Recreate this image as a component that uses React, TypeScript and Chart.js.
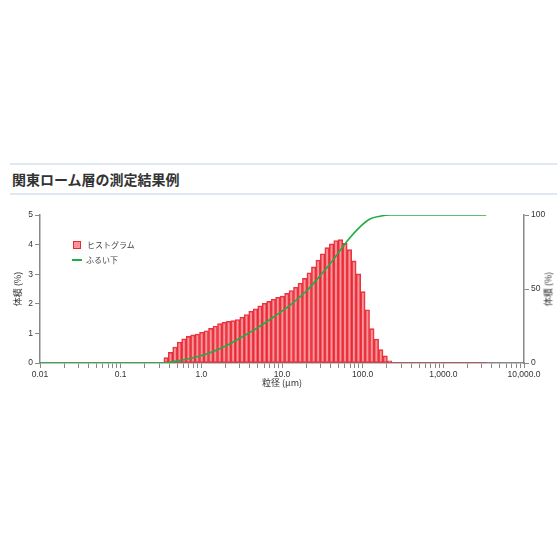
import { useEffect, useRef } from 'react';
import { Chart, registerables } from 'chart.js';

Chart.register(...registerables);

// histogram bins: particle size (μm) and volume (%)
const histSizes = [
  0.365, 0.414, 0.471, 0.535, 0.608, 0.691, 0.785, 0.892, 1.01, 1.15,
  1.31, 1.49, 1.69, 1.92, 2.18, 2.48, 2.81, 3.2, 3.63, 4.13,
  4.69, 5.33, 6.06, 6.88, 7.82, 8.88, 10.1, 11.5, 13.0, 14.8,
  16.8, 19.1, 21.7, 24.7, 28.0, 31.9, 36.2, 41.1, 46.7, 53.1,
  60.3, 68.5, 77.9, 88.5, 101, 114, 130, 148, 168, 190, 216,
];
const histValues = [
  0.18, 0.36, 0.54, 0.71, 0.82, 0.9, 0.95, 0.98, 1.04, 1.09,
  1.17, 1.25, 1.33, 1.37, 1.41, 1.43, 1.47, 1.55, 1.64, 1.75,
  1.83, 1.93, 2.02, 2.08, 2.16, 2.22, 2.26, 2.35, 2.45, 2.56,
  2.7, 2.86, 3.05, 3.25, 3.48, 3.69, 3.9, 4.03, 4.14, 4.17,
  4.04, 3.83, 3.45, 3.01, 2.41, 1.8, 1.16, 0.81, 0.45, 0.24, 0.07,
];

// empty bins on the right (drawn as a flat line)
const baselineSizes = [230, 3400];
const baselineValues = [0, 0];

// cumulative undersize (%)
const sieveSizes = [0.01, 0.37, 0.41, 0.72, 1.16, 1.86, 3.0, 4.84, 7.78, 12.5, 20.2, 29.5, 43.2, 63.3, 92.7, 123, 164, 218, 3400];
const sieveValues = [0, 0, 0.5, 3.0, 6.1, 10.6, 16.7, 23.4, 30.9, 39.0, 48.8, 58.8, 69.8, 82, 92, 97.3, 99.2, 100, 100];

const xMajorTicks = [0.01, 0.1, 1, 10, 100, 1000, 10000];
const xTickLabels = ['0.01', '0.1', '1.0', '10.0', '100.0', '1,000.0', '10,000.0'];
const xMinorSteps = [1, 2, 3, 4, 5, 6, 7, 8, 9];

const jpFont = "'Noto Sans CJK JP', sans-serif";
const numFont = "'Liberation Sans', Arial, sans-serif";
const axisGrey = '#888';
const barFill = 'rgba(245, 70, 80, 0.58)';
const barEdge = 'rgba(230, 28, 42, 0.9)';

const tickFont = { family: numFont, size: 8.5 };

const App = () => {
  const canvasRef = useRef<HTMLCanvasElement | null>(null);

  useEffect(() => {
    if (!canvasRef.current) return;
    const chart = new Chart(canvasRef.current, {
      type: 'bar',
      data: {
        datasets: [
          {
            type: 'line',
            label: 'ふるい下',
            data: sieveSizes.map((x, i) => ({ x, y: sieveValues[i] })),
            yAxisID: 'y2',
            borderColor: '#1fae45',
            borderWidth: 1.6,
            pointRadius: 0,
            cubicInterpolationMode: 'monotone',
            fill: false,
          },
          {
            type: 'bar',
            label: 'ヒストグラム',
            data: histSizes.map((x, i) => ({ x, y: histValues[i] })),
            yAxisID: 'y',
            backgroundColor: barFill,
            borderColor: barEdge,
            borderWidth: 1,
            borderSkipped: false,
            barThickness: 'flex',
            categoryPercentage: 1,
            barPercentage: 1,
          },
          {
            type: 'line',
            label: '',
            data: baselineSizes.map((x, i) => ({ x, y: baselineValues[i] })),
            yAxisID: 'y',
            borderColor: 'rgba(232, 36, 47, 0.55)',
            borderWidth: 1.5,
            pointRadius: 0,
          },
        ],
      } as any,
      options: {
        responsive: false,
        animation: false,
        layout: { padding: { top: 15, left: 0, right: 0, bottom: 0 } },
        plugins: {
          legend: { display: false },
          tooltip: { enabled: false },
        },
        scales: {
          x: {
            type: 'logarithmic',
            min: 0.01,
            max: 10000,
            offset: false,
            afterFit: (scale: any) => {
              scale.height = 37;
            },
            afterBuildTicks: (scale: any) => {
              const ticks: any[] = [];
              xMajorTicks.forEach((d, i) => {
                if (i === xMajorTicks.length - 1) {
                  ticks.push({ value: d });
                  return;
                }
                xMinorSteps.forEach((m) => ticks.push({ value: +(d * m).toPrecision(3) }));
              });
              scale.ticks = ticks;
            },
            border: { display: true, color: axisGrey, width: 1.5 },
            grid: {
              display: true,
              drawOnChartArea: false,
              drawTicks: true,
              tickLength: 5,
              tickColor: axisGrey,
              tickWidth: 1,
              offset: false,
            },
            ticks: {
              autoSkip: false,
              maxRotation: 0,
              minRotation: 0,
              padding: 2,
              color: '#333',
              font: tickFont,
              callback: (value: any) => {
                const i = xMajorTicks.findIndex((v) => Math.abs(v - value) < v * 1e-6);
                return i >= 0 ? xTickLabels[i] : '';
              },
            },
            title: {
              display: true,
              text: '粒径 (μm)',
              color: '#333',
              font: { family: jpFont, size: 9 },
              padding: { top: 0, bottom: 11.6 },
            },
          },
          y: {
            type: 'linear',
            position: 'left',
            min: 0,
            max: 5,
            afterFit: (scale: any) => {
              scale.width = 40;
            },
            border: { display: true, color: axisGrey, width: 1.5 },
            grid: {
              display: true,
              drawOnChartArea: false,
              drawTicks: true,
              tickLength: 5,
              tickColor: axisGrey,
              tickWidth: 1,
            },
            ticks: { stepSize: 1, padding: 2, color: '#333', font: tickFont },
            title: {
              display: true,
              text: '体積 (%)',
              color: '#333',
              font: { family: jpFont, size: 9 },
              padding: { top: 12.6, bottom: 0 },
            },
          },
          y2: {
            type: 'linear',
            position: 'right',
            min: 0,
            max: 100,
            afterFit: (scale: any) => {
              scale.width = 36;
            },
            border: { display: true, color: axisGrey, width: 1.5 },
            grid: {
              display: true,
              drawOnChartArea: false,
              drawTicks: true,
              tickLength: 5,
              tickColor: axisGrey,
              tickWidth: 1,
            },
            ticks: { stepSize: 50, padding: 2, color: '#333', font: tickFont },
          },
        },
      } as any,
    });
    return () => {
      chart.destroy();
    };
  }, []);

  return (
    <div style={{ position: 'absolute', left: 0, top: 0, width: 560, height: 560, background: 'white' }}>
      <div
        style={{
          position: 'absolute',
          left: 10,
          top: 163,
          width: 545,
          height: 28,
          borderTop: '2px solid #dfe7f3',
          borderBottom: '2px solid #dfe7f3',
          fontFamily: jpFont,
          fontWeight: 'bold',
          fontSize: 14,
          lineHeight: '28px',
          color: '#333',
          paddingLeft: 2,
          boxSizing: 'content-box',
        }}
      >
        関東ローム層の測定結果例
      </div>
      <canvas ref={canvasRef} width={560} height={200} style={{ position: 'absolute', left: 0, top: 200 }}></canvas>
      <div style={{ position: 'absolute', left: 72, top: 237, fontFamily: jpFont, fontSize: 8, color: '#444' }}>
        <div style={{ display: 'flex', alignItems: 'center', height: 15 }}>
          <span
            style={{
              display: 'inline-block',
              width: 6,
              height: 6,
              background: barFill,
              border: '1px solid ' + barEdge,
              marginLeft: 1,
              marginRight: 6,
            }}
          ></span>
          ヒストグラム
        </div>
        <div style={{ display: 'flex', alignItems: 'center', height: 15 }}>
          <span
            style={{ display: 'inline-block', width: 10, height: 2, background: '#1fae45', marginRight: 4 }}
          ></span>
          ふるい下
        </div>
      </div>
      <div
        style={{
          position: 'absolute',
          left: 548,
          top: 289,
          transform: 'translate(-50%, -50%) rotate(-90deg)',
          fontFamily: jpFont,
          fontSize: 9,
          color: '#333',
          whiteSpace: 'nowrap',
        }}
      >
        体積 (%)
      </div>
    </div>
  );
};

export default App;
